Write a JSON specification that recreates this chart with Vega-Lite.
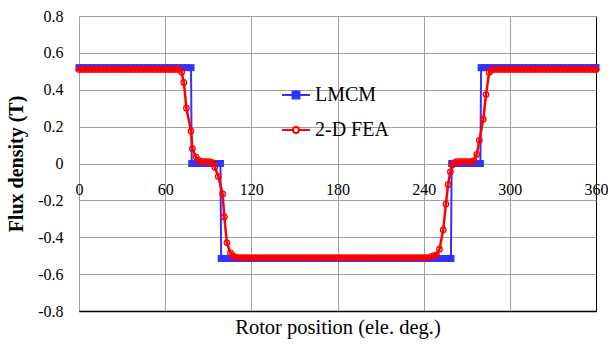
{
"$schema": "https://vega.github.io/schema/vega-lite/v6.json",
"width": 517,
"height": 295,
"autosize": "none",
"padding": {"left": 79, "top": 16, "right": 12, "bottom": 36},
"background": "white",
"config": {"view": {"stroke": null}, "font": "Liberation Serif"},
"datasets": {
"lmcm": [
{"x":0,"y":0.52},{"x":3,"y":0.52},{"x":6,"y":0.52},{"x":9,"y":0.52},{"x":12,"y":0.52},{"x":15,"y":0.52},{"x":18,"y":0.52},{"x":21,"y":0.52},{"x":24,"y":0.52},{"x":27,"y":0.52},{"x":30,"y":0.52},{"x":33,"y":0.52},{"x":36,"y":0.52},{"x":39,"y":0.52},{"x":42,"y":0.52},{"x":45,"y":0.52},{"x":48,"y":0.52},{"x":51,"y":0.52},{"x":54,"y":0.52},{"x":57,"y":0.52},{"x":60,"y":0.52},{"x":63,"y":0.52},{"x":66,"y":0.52},{"x":69,"y":0.52},{"x":72,"y":0.52},{"x":75,"y":0.52},{"x":78,"y":0.52},
{"x":78.5,"y":0},{"x":81,"y":0},{"x":84,"y":0},{"x":87,"y":0},{"x":90,"y":0},{"x":93,"y":0},{"x":96,"y":0},{"x":98.5,"y":0},
{"x":99,"y":-0.515},{"x":102,"y":-0.515},{"x":105,"y":-0.515},{"x":108,"y":-0.515},{"x":111,"y":-0.515},{"x":114,"y":-0.515},{"x":117,"y":-0.515},{"x":120,"y":-0.515},{"x":123,"y":-0.515},{"x":126,"y":-0.515},{"x":129,"y":-0.515},{"x":132,"y":-0.515},{"x":135,"y":-0.515},{"x":138,"y":-0.515},{"x":141,"y":-0.515},{"x":144,"y":-0.515},{"x":147,"y":-0.515},{"x":150,"y":-0.515},{"x":153,"y":-0.515},{"x":156,"y":-0.515},{"x":159,"y":-0.515},{"x":162,"y":-0.515},{"x":165,"y":-0.515},{"x":168,"y":-0.515},{"x":171,"y":-0.515},{"x":174,"y":-0.515},{"x":177,"y":-0.515},{"x":180,"y":-0.515},{"x":183,"y":-0.515},{"x":186,"y":-0.515},{"x":189,"y":-0.515},{"x":192,"y":-0.515},{"x":195,"y":-0.515},{"x":198,"y":-0.515},{"x":201,"y":-0.515},{"x":204,"y":-0.515},{"x":207,"y":-0.515},{"x":210,"y":-0.515},{"x":213,"y":-0.515},{"x":216,"y":-0.515},{"x":219,"y":-0.515},{"x":222,"y":-0.515},{"x":225,"y":-0.515},{"x":228,"y":-0.515},{"x":231,"y":-0.515},{"x":234,"y":-0.515},{"x":237,"y":-0.515},{"x":240,"y":-0.515},{"x":243,"y":-0.515},{"x":246,"y":-0.515},{"x":249,"y":-0.515},{"x":252,"y":-0.515},{"x":255,"y":-0.515},{"x":258,"y":-0.515},{"x":259,"y":-0.515},
{"x":259.5,"y":0},{"x":262,"y":0},{"x":265,"y":0},{"x":268,"y":0},{"x":271,"y":0},{"x":274,"y":0},{"x":277,"y":0},{"x":279.5,"y":0},
{"x":280,"y":0.52},{"x":283,"y":0.52},{"x":286,"y":0.52},{"x":289,"y":0.52},{"x":292,"y":0.52},{"x":295,"y":0.52},{"x":298,"y":0.52},{"x":301,"y":0.52},{"x":304,"y":0.52},{"x":307,"y":0.52},{"x":310,"y":0.52},{"x":313,"y":0.52},{"x":316,"y":0.52},{"x":319,"y":0.52},{"x":322,"y":0.52},{"x":325,"y":0.52},{"x":328,"y":0.52},{"x":331,"y":0.52},{"x":334,"y":0.52},{"x":337,"y":0.52},{"x":340,"y":0.52},{"x":343,"y":0.52},{"x":346,"y":0.52},{"x":349,"y":0.52},{"x":352,"y":0.52},{"x":355,"y":0.52},{"x":358,"y":0.52},{"x":360,"y":0.52}
],
"fea": [
{"x":0,"y":0.51},{"x":2,"y":0.51},{"x":4,"y":0.51},{"x":6,"y":0.51},{"x":8,"y":0.51},{"x":10,"y":0.51},{"x":12,"y":0.51},{"x":14,"y":0.51},{"x":16,"y":0.51},{"x":18,"y":0.51},{"x":20,"y":0.51},{"x":22,"y":0.51},{"x":24,"y":0.51},{"x":26,"y":0.51},{"x":28,"y":0.51},{"x":30,"y":0.51},{"x":32,"y":0.51},{"x":34,"y":0.51},{"x":36,"y":0.51},{"x":38,"y":0.51},{"x":40,"y":0.51},{"x":42,"y":0.51},{"x":44,"y":0.51},{"x":46,"y":0.51},{"x":48,"y":0.51},{"x":50,"y":0.51},{"x":52,"y":0.51},{"x":54,"y":0.51},{"x":56,"y":0.51},{"x":58,"y":0.51},{"x":60,"y":0.51},{"x":62,"y":0.51},{"x":64,"y":0.51},{"x":66,"y":0.51},{"x":68,"y":0.51},{"x":70,"y":0.51},
{"x":71.5,"y":0.495},{"x":73,"y":0.44},{"x":74.8,"y":0.3},{"x":78,"y":0.175},{"x":79,"y":0.08},{"x":81.5,"y":0.035},{"x":83,"y":0.018},{"x":85,"y":0.012},{"x":87,"y":0.01},{"x":89,"y":0.01},{"x":91,"y":0.01},{"x":93,"y":0.005},
{"x":94.5,"y":-0.02},{"x":97,"y":-0.07},{"x":100,"y":-0.165},{"x":101.2,"y":-0.29},{"x":103,"y":-0.43},{"x":105.5,"y":-0.485},{"x":107,"y":-0.5},{"x":109,"y":-0.508},
{"x":111,"y":-0.51},{"x":113,"y":-0.51},{"x":115,"y":-0.51},{"x":117,"y":-0.51},{"x":119,"y":-0.51},{"x":121,"y":-0.51},{"x":123,"y":-0.51},{"x":125,"y":-0.51},{"x":127,"y":-0.51},{"x":129,"y":-0.51},{"x":131,"y":-0.51},{"x":133,"y":-0.51},{"x":135,"y":-0.51},{"x":137,"y":-0.51},{"x":139,"y":-0.51},{"x":141,"y":-0.51},{"x":143,"y":-0.51},{"x":145,"y":-0.51},{"x":147,"y":-0.51},{"x":149,"y":-0.51},{"x":151,"y":-0.51},{"x":153,"y":-0.51},{"x":155,"y":-0.51},{"x":157,"y":-0.51},{"x":159,"y":-0.51},{"x":161,"y":-0.51},{"x":163,"y":-0.51},{"x":165,"y":-0.51},{"x":167,"y":-0.51},{"x":169,"y":-0.51},{"x":171,"y":-0.51},{"x":173,"y":-0.51},{"x":175,"y":-0.51},{"x":177,"y":-0.51},{"x":179,"y":-0.51},{"x":181,"y":-0.51},{"x":183,"y":-0.51},{"x":185,"y":-0.51},{"x":187,"y":-0.51},{"x":189,"y":-0.51},{"x":191,"y":-0.51},{"x":193,"y":-0.51},{"x":195,"y":-0.51},{"x":197,"y":-0.51},{"x":199,"y":-0.51},{"x":201,"y":-0.51},{"x":203,"y":-0.51},{"x":205,"y":-0.51},{"x":207,"y":-0.51},{"x":209,"y":-0.51},{"x":211,"y":-0.51},{"x":213,"y":-0.51},{"x":215,"y":-0.51},{"x":217,"y":-0.51},{"x":219,"y":-0.51},{"x":221,"y":-0.51},{"x":223,"y":-0.51},{"x":225,"y":-0.51},{"x":227,"y":-0.51},{"x":229,"y":-0.51},{"x":231,"y":-0.51},{"x":233,"y":-0.51},{"x":235,"y":-0.51},{"x":237,"y":-0.51},{"x":239,"y":-0.51},{"x":241,"y":-0.51},{"x":243,"y":-0.51},
{"x":245,"y":-0.505},{"x":247,"y":-0.5},{"x":249,"y":-0.495},{"x":251,"y":-0.465},{"x":253.6,"y":-0.36},{"x":255.5,"y":-0.22},{"x":257,"y":-0.115},{"x":258.6,"y":-0.045},{"x":260,"y":-0.008},{"x":261.5,"y":0.005},
{"x":263,"y":0.01},{"x":265,"y":0.01},{"x":267,"y":0.01},{"x":269,"y":0.01},{"x":271,"y":0.01},{"x":273,"y":0.01},{"x":275,"y":0.015},{"x":277,"y":0.05},{"x":278.8,"y":0.126},{"x":281.5,"y":0.24},{"x":283.4,"y":0.374},{"x":285.6,"y":0.494},{"x":287,"y":0.505},
{"x":289,"y":0.51},{"x":291,"y":0.51},{"x":293,"y":0.51},{"x":295,"y":0.51},{"x":297,"y":0.51},{"x":299,"y":0.51},{"x":301,"y":0.51},{"x":303,"y":0.51},{"x":305,"y":0.51},{"x":307,"y":0.51},{"x":309,"y":0.51},{"x":311,"y":0.51},{"x":313,"y":0.51},{"x":315,"y":0.51},{"x":317,"y":0.51},{"x":319,"y":0.51},{"x":321,"y":0.51},{"x":323,"y":0.51},{"x":325,"y":0.51},{"x":327,"y":0.51},{"x":329,"y":0.51},{"x":331,"y":0.51},{"x":333,"y":0.51},{"x":335,"y":0.51},{"x":337,"y":0.51},{"x":339,"y":0.51},{"x":341,"y":0.51},{"x":343,"y":0.51},{"x":345,"y":0.51},{"x":347,"y":0.51},{"x":349,"y":0.51},{"x":351,"y":0.51},{"x":353,"y":0.51},{"x":355,"y":0.51},{"x":357,"y":0.51},{"x":359,"y":0.51},{"x":360,"y":0.51}
]
},
"encoding": {
"x": {"field": "x", "type": "quantitative",
  "scale": {"domain": [0, 360], "nice": false, "zero": false},
  "axis": {"values": [0, 60, 120, 180, 240, 300, 360],
    "grid": true,
    "gridColor": {"condition": {"test": "datum.value >= 359", "value": "#000000"}, "value": "#a0a0a0"},
    "gridWidth": 1,
    "domain": true, "domainColor": "#000000", "domainWidth": 1.3,
    "ticks": false, "tickSize": 0,
    "labelPadding": -130, "labelFlush": false, "labelOverlap": false, "labelBound": false,
    "labelFont": "Liberation Serif", "labelFontSize": 16, "labelColor": "#000000",
    "title": "Rotor position (ele. deg.)",
    "titleFont": "Liberation Serif", "titleFontSize": 20.5, "titleFontWeight": "normal", "titleColor": "#000000",
    "titlePadding": 6}},
"y": {"field": "y", "type": "quantitative",
  "scale": {"domain": [-0.8, 0.8], "nice": false},
  "axis": {"values": [-0.8, -0.6, -0.4, -0.2, 0, 0.2, 0.4, 0.6, 0.8],
    "labelExpr": "toString(round(datum.value*10)/10)",
    "grid": true,
    "gridColor": {"condition": {"test": "datum.value <= -0.79", "value": "#000000"}, "value": "#a0a0a0"},
    "gridWidth": 1,
    "domain": false, "ticks": false, "tickSize": 0,
    "labelPadding": 16, "labelOverlap": false, "labelBound": false, "labelFlush": false,
    "labelFont": "Liberation Serif", "labelFontSize": 16, "labelColor": "#000000",
    "title": "Flux density (T)",
    "titleFont": "Liberation Serif", "titleFontSize": 20, "titleFontWeight": "bold", "titleColor": "#000000",
    "titlePadding": 11}}
},
"layer": [
{"data": {"name": "lmcm"},
 "mark": {"type": "line", "strokeWidth": 2},
 "encoding": {"color": {"datum": "LMCM", "type": "nominal",
   "scale": {"domain": ["LMCM", "2-D FEA"], "range": ["#3333ff", "#ff0000"]},
   "legend": {"title": null, "orient": "none", "legendX": 202, "legendY": 64, "padding": 0,
     "symbolSize": 784, "symbolStrokeWidth": 2, "rowPadding": 10, "labelOffset": 4,
     "labelFont": "Liberation Serif", "labelFontSize": 20, "labelColor": "#000000",
     "encode": {"symbols": {"update": {
       "shape": {"signal": "datum.value === 'LMCM' ? 'M-1,0H1M-0.25,-0.25H0.25V0.25H-0.25Z' : 'M-1,0H-0.21M0.21,0H1M0.21,0A0.21,0.21 0 1,1 -0.21,0A0.21,0.21 0 1,1 0.21,0Z'"},
       "fill": {"signal": "datum.value === 'LMCM' ? '#3333ff' : '#ffffff'"},
       "fillOpacity": {"value": 1},
       "strokeWidth": {"value": 2}}}}}}}},
{"data": {"name": "lmcm"},
 "mark": {"type": "point", "shape": "square", "filled": true, "size": 49, "color": "#3333ff", "opacity": 1}},
{"data": {"name": "fea"},
 "mark": {"type": "line", "strokeWidth": 2.5},
 "encoding": {"color": {"datum": "2-D FEA", "type": "nominal"}}},
{"data": {"name": "fea"},
 "mark": {"type": "point", "shape": "circle", "filled": false, "size": 30, "strokeWidth": 1.3, "color": "#ff0000", "opacity": 1}}
]
}
